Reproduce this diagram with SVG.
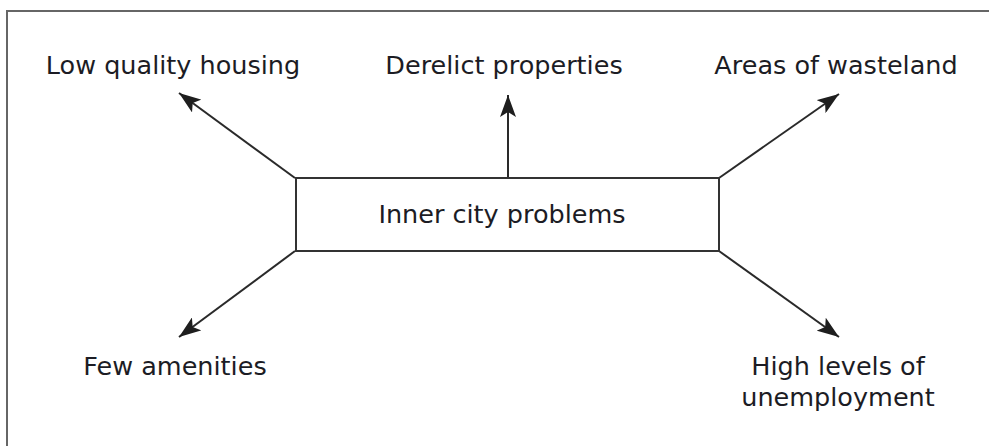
<svg xmlns="http://www.w3.org/2000/svg" width="989" height="446" viewBox="0 0 989 446">
<style>
.t{font-family:"DejaVu Sans",sans-serif;font-size:25.5px;fill:#1c1c24;text-anchor:middle}
.c{stroke:#2a2a2a;stroke-width:2;fill:none}
</style>
<defs>
<marker id="ah" markerUnits="userSpaceOnUse" markerWidth="24" markerHeight="16" refX="22" refY="8" orient="auto">
<path d="M0,0 L22,8 L0,16 L5,8 Z" fill="#1e1e1e"/>
</marker>
</defs>
<rect width="989" height="446" fill="#fff"/>
<path d="M7,446 V11 H989" stroke="#666" stroke-width="2" fill="none"/>
<g id="connectors">
<line class="c" x1="295" y1="178" x2="179" y2="93" marker-end="url(#ah)"/>
<line class="c" x1="508" y1="178" x2="508" y2="95" marker-end="url(#ah)"/>
<line class="c" x1="719" y1="178" x2="839" y2="94" marker-end="url(#ah)"/>
<line class="c" x1="295" y1="251" x2="179" y2="337" marker-end="url(#ah)"/>
<line class="c" x1="719" y1="251" x2="839" y2="337" marker-end="url(#ah)"/>
</g>
<g id="center">
<rect x="296" y="178" width="423" height="73" fill="#fff" stroke="#333" stroke-width="2"/>
<text class="t" x="502" y="223">Inner city problems</text>
</g>
<g id="low-quality-housing"><text class="t" x="173" y="74">Low quality housing</text></g>
<g id="derelict-properties"><text class="t" x="504" y="74">Derelict properties</text></g>
<g id="areas-of-wasteland"><text class="t" x="836" y="74">Areas of wasteland</text></g>
<g id="few-amenities"><text class="t" x="175" y="375">Few amenities</text></g>
<g id="high-unemployment"><text class="t" x="838" y="375">High levels of</text><text class="t" x="838" y="406">unemployment</text></g>
</svg>
